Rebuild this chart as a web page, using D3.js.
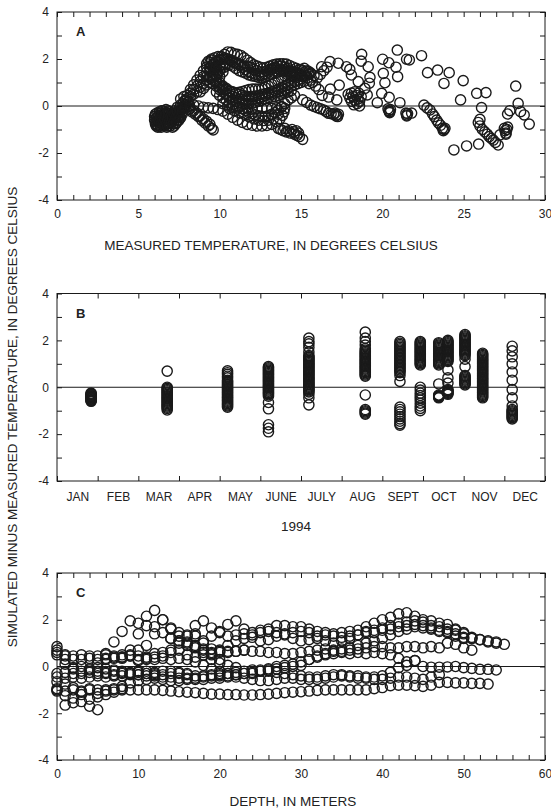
<!DOCTYPE html>
<html>
<head>
<meta charset="utf-8">
<script src="https://cdn.jsdelivr.net/npm/d3@7"></script>
<style>
  body { margin: 0; background: #fff; }
  svg { display: block; }
  text { font-family: "Liberation Sans", Arial, Helvetica, sans-serif; fill: #222; }
</style>
</head>
<body>
<script>
// ---------------- Panel A: residual vs measured temperature (deg C, residual) ----------------
const aWinterA = [[6.05,-0.35],[6.1,-0.5],[6.1,-0.65],[6.15,-0.8],[6.2,-0.9],[6.2,-0.45],[6.25,-0.7],[6.3,-0.25],[6.3,-0.55],[6.35,-0.85],[6.4,-0.4],[6.45,-0.65],[6.5,-0.2],[6.5,-0.8],[6.55,-0.5],[6.6,-0.35],[6.65,-0.7],[6.7,-0.15],[6.7,-0.55],[6.75,-0.9],[6.8,-0.4],[6.85,-0.75],[6.9,-0.25],[6.9,-0.6],
  [6.0,-0.45],[6.0,-0.6],[6.05,-0.75],[6.1,-0.85],[6.15,-0.3],[6.2,-0.6],[6.25,-0.4],[6.25,-0.85],[6.3,-0.7],[6.35,-0.3],[6.35,-0.5],[6.4,-0.75],[6.4,-0.9],[6.45,-0.2],[6.45,-0.45],[6.5,-0.35],[6.5,-0.6],[6.55,-0.75],[6.6,-0.5],[6.6,-0.85],[6.65,-0.25],[6.65,-0.4],[6.7,-0.65],[6.75,-0.3],[6.75,-0.75],[6.8,-0.55],[6.8,-0.85],[6.85,-0.2],[6.85,-0.45],[6.9,-0.7]];
const aWinterB = [[6.95,-0.85],[7.0,-0.45],[7.05,-0.7],[7.1,-0.3],[7.1,-0.9],[7.2,-0.55],[7.25,-0.2],[7.3,-0.75],[7.35,-0.4],[7.4,-0.05],[7.45,-0.6],[7.5,-0.25],[7.55,-0.45],[7.6,0.05],[7.65,-0.15],[7.7,-0.35],[7.75,0.1],[7.8,-0.1],[7.9,0.05],[8.0,-0.05],
  [7.0,-0.6],[7.05,-0.35],[7.1,-0.5],[7.15,-0.75],[7.2,-0.35],[7.2,-0.85],[7.25,-0.6],[7.3,-0.3],[7.3,-0.5],[7.35,-0.7],[7.4,-0.25],[7.45,-0.45],[7.5,-0.1],[7.5,-0.6],[7.55,-0.3],[7.6,-0.2],[7.6,-0.5],[7.7,-0.05],[7.7,-0.25],[7.8,0.2],[7.85,-0.05],[7.9,0.25],[8.0,0.15],[8.1,0.2],[8.15,0.0]];
const aRise1 = [[7.6,0.3],[7.8,0.4],[8.0,0.45],[8.2,0.55],[8.4,0.7],[8.6,0.85],[8.8,1.05],[9.0,1.25],[9.2,1.45],[9.4,1.65],[9.6,1.8],[9.8,1.9],[10.0,1.98]];
const aRise2 = [[8.0,0.3],[8.2,0.4],[8.4,0.5],[8.6,0.6],[8.8,0.8],[9.0,0.95],[9.2,1.1],[9.4,1.25],[9.6,1.4],[9.8,1.5]];
const aRise3 = [[8.2,0.7],[8.4,0.9],[8.6,1.1],[8.8,1.3],[9.0,1.5],[9.2,1.65],[9.4,1.85],[8.8,0.6],[9.0,0.75],[9.2,0.9],[9.4,1.0],[9.6,1.3],[9.6,0.95],[9.8,1.7],[9.8,1.3],[10.0,1.75],[10.0,1.5],[10.0,1.25],[9.4,1.5],[9.2,1.8],[9.5,1.95],[9.7,1.55],[9.9,1.4],[10.1,1.6],[10.2,1.45],[10.3,1.65]];
const aArc1 = [[10.3,2.2],[10.5,2.3],[10.7,2.28],[10.9,2.22],[11.1,2.2],[11.3,2.15],[11.5,2.05],[11.7,1.95],[11.9,1.85],[12.1,1.75],[12.3,1.7],[12.5,1.65],[12.7,1.62],[12.9,1.65],[13.1,1.7],[13.3,1.75],[13.5,1.78],[13.7,1.8],[13.9,1.8],[14.1,1.78],[14.3,1.72],[14.5,1.66],[14.7,1.6],[14.9,1.55],[15.1,1.5],[15.3,1.48],[15.5,1.45]];
const aArc2 = [[9.3,1.9],[9.5,2.0],[9.7,2.05],[9.9,2.1],[10.1,2.1],[10.3,2.05],[10.5,2.0],[10.7,1.95],[10.9,1.85],[11.1,1.8],[11.3,1.75],[11.5,1.7],[11.7,1.7],[11.9,1.65],[12.1,1.55],[12.3,1.5],[12.5,1.45],[12.7,1.45],[12.9,1.5],[13.1,1.55],[13.3,1.6],[13.5,1.6],[13.7,1.55],[13.9,1.5],[14.1,1.45],[14.3,1.4],[14.5,1.35],[14.7,1.3],[14.9,1.3],[15.1,1.25],[15.3,1.3],[15.5,1.35]];
const aArc3 = [[9.4,1.6],[9.6,1.75],[9.8,1.85],[10.0,1.95],[10.2,2.0],[10.4,2.0],[10.6,1.95],[10.8,1.9],[11.0,1.85],[11.2,1.75],[11.4,1.65],[11.6,1.55],[11.8,1.45],[12.0,1.4],[12.2,1.35],[12.4,1.3],[12.6,1.3],[12.8,1.35],[13.0,1.45],[13.2,1.55],[13.4,1.65],[13.6,1.7],[13.8,1.7],[14.0,1.65],[14.2,1.6],[14.4,1.5],[14.6,1.45],[14.8,1.4],[15.0,1.35],[15.2,1.3],[15.4,1.2],[15.6,1.1]];
const aArc4 = [[9.2,1.25],[9.4,1.2],[9.6,1.1],[9.8,1.0],[10.0,0.9],[10.2,0.8],[10.4,0.7],[10.6,0.62],[10.8,0.58],[11.0,0.55],[11.2,0.58],[11.4,0.62],[11.6,0.66],[11.8,0.7],[12.0,0.72],[12.2,0.72],[12.4,0.72],[12.6,0.74],[12.8,0.78],[13.0,0.85],[13.2,0.92],[13.4,1.0],[13.6,1.1],[13.8,1.2],[14.0,1.28],[14.2,1.32],[14.4,1.3],[14.6,1.25]];
const aArc5 = [[9.6,1.2],[9.8,1.1],[10.0,1.0],[10.2,0.85],[10.4,0.75],[10.6,0.65],[10.8,0.6],[11.0,0.55],[11.2,0.5],[11.4,0.45],[11.6,0.42],[11.8,0.4],[12.0,0.4],[12.2,0.42],[12.4,0.45],[12.6,0.5],[12.8,0.52],[13.0,0.55],[13.2,0.6],[13.4,0.65],[13.6,0.7],[13.8,0.78],[14.0,0.85],[14.2,0.9],[14.4,1.0],[14.6,1.05],[14.8,1.1],[15.0,1.15]];
const aArc6 = [[10.0,0.8],[10.2,0.7],[10.4,0.55],[10.6,0.45],[10.8,0.4],[11.0,0.35],[11.2,0.3],[11.4,0.28],[11.6,0.25],[11.8,0.25],[12.0,0.28],[12.2,0.3],[12.4,0.35],[12.6,0.4],[12.8,0.45],[13.0,0.5],[13.2,0.5],[13.4,0.55],[13.6,0.6],[13.8,0.65],[14.0,0.72],[14.2,0.78],[14.4,0.85],[14.6,0.9],[14.8,0.95],[15.0,1.0],[15.2,1.05]];
const aArc7 = [[9.6,1.6],[9.8,1.65],[10.0,1.7],[10.2,1.75],[10.4,1.8],[10.6,1.75],[10.8,1.7],[11.0,1.6],[11.2,1.5],[11.4,1.45],[11.6,1.4],[11.8,1.32],[12.0,1.28],[12.2,1.26],[12.4,1.22],[12.6,1.22],[12.8,1.26],[13.0,1.3],[13.2,1.35],[13.4,1.4],[13.6,1.45],[13.8,1.5],[14.0,1.55],[14.2,1.5],[14.4,1.45],[14.6,1.4]];
const aArc8 = [[9.8,0.85],[10.0,0.7],[10.2,0.6],[10.4,0.5],[10.6,0.35],[10.8,0.25],[11.0,0.2],[11.2,0.15],[11.4,0.12],[11.6,0.1],[11.8,0.1],[12.0,0.12],[12.2,0.15],[12.4,0.2],[12.6,0.25],[12.8,0.3],[13.0,0.35],[13.2,0.38],[13.4,0.4],[13.6,0.45],[13.8,0.5],[14.0,0.55],[14.2,0.6],[14.4,0.65]];
const aLoop1 = [[9.8,0.6],[10.0,0.45],[10.2,0.35],[10.4,0.25],[10.6,0.15],[10.8,0.08],[11.0,0.0],[11.2,-0.05],[11.4,-0.12],[11.6,-0.2],[11.8,-0.28],[12.0,-0.33],[12.2,-0.38],[12.4,-0.42],[12.6,-0.45],[12.8,-0.45],[13.0,-0.42],[13.2,-0.35],[13.4,-0.28],[13.6,-0.18],[13.8,-0.05],[14.0,0.1],[14.2,0.25],[14.4,0.35],[14.6,0.45]];
const aLoop2 = [[10.2,0.1],[10.5,0.0],[10.8,-0.05],[11.1,-0.08],[11.4,-0.1],[11.7,-0.12],[12.0,-0.12],[12.3,-0.1],[12.6,-0.1],[12.9,-0.1],[13.2,-0.1],[13.5,-0.08],[13.8,-0.02]];
const aLoop3 = [[8.4,0.05],[8.7,0.0],[9.0,-0.05],[9.3,-0.08],[9.6,-0.1],[9.9,-0.15],[10.2,-0.22],[10.5,-0.35],[10.8,-0.48],[11.1,-0.6],[11.4,-0.7],[11.7,-0.78],[12.0,-0.82],[12.3,-0.85],[12.6,-0.85],[12.9,-0.83],[13.2,-0.78],[13.5,-0.68],[13.7,-0.55],[13.85,-0.4],[13.95,-0.25],[14.0,-0.1]];
const aLoop4 = [[10.6,-0.1],[10.9,-0.2],[11.2,-0.28],[11.5,-0.35],[11.8,-0.45],[12.1,-0.55],[12.4,-0.6],[12.7,-0.62],[13.0,-0.6],[13.3,-0.55],[13.6,-0.35]];
const aFall1 = [[7.9,-0.05],[8.1,-0.15],[8.3,-0.25],[8.5,-0.35],[8.7,-0.45],[8.9,-0.6],[9.1,-0.72],[9.3,-0.85],[9.5,-0.95],[9.6,-1.02]];
const aFall2 = [[8.2,-0.1],[8.4,-0.2],[8.6,-0.3],[8.8,-0.42],[9.0,-0.55],[9.2,-0.65],[9.4,-0.78]];
const aCold15 = [[13.6,-0.95],[13.75,-1.0],[13.9,-1.05],[14.0,-0.95],[14.1,-1.1],[14.25,-1.05],[14.35,-1.15],[14.45,-1.0],[14.55,-1.1],[14.6,-1.2],[14.7,-1.05],[14.75,-1.25],[14.85,-1.15],[14.9,-1.3],[15.1,-1.42]];
const aFall17 = [[15.1,0.26],[15.35,0.15],[15.6,0.04],[15.8,-0.02],[16.0,-0.07],[16.2,-0.12],[16.4,-0.17],[16.55,-0.24],[16.7,-0.31],[16.85,-0.33],[17.0,-0.35],[17.1,-0.3],[17.15,-0.42],[17.2,-0.38],[17.25,-0.45],[17.3,-0.35]];
const aArcEnds = [[15.0,1.55],[15.2,1.6],[15.4,1.5],[15.6,1.4],[15.8,1.3],[16.0,1.2],[16.2,1.35],[16.4,1.5],[16.6,1.65],[15.7,1.0],[15.9,0.85],[16.1,0.7],[15.5,0.95]];
const aWarm18 = [[17.9,0.5],[18.0,0.35],[18.1,0.55],[18.1,0.2],[18.2,0.4],[18.25,0.05],[18.3,0.6],[18.3,0.25],[18.4,0.45],[18.45,0.1],[18.5,0.3],[18.55,0.55],[18.6,0.0],[18.6,0.2],[18.7,0.4]];
const aWarm20 = [[20.35,-0.12],[20.4,-0.2],[20.45,-0.28],[20.5,-0.15],[20.45,-0.24],[21.45,-0.3],[21.5,-0.38],[21.55,-0.32],[21.5,-0.42],[21.8,-0.3]];
const aFall23 = [[22.56,0.04],[22.75,-0.08],[22.93,-0.17],[23.09,-0.34],[23.2,-0.45],[23.34,-0.6],[23.45,-0.72],[23.58,-0.82],[23.7,-0.95],[23.79,-1.0],[23.75,-1.05],[23.85,-0.95]];
const aFall27 = [[25.9,-0.7],[26.0,-0.85],[26.15,-1.0],[26.3,-1.1],[26.45,-1.2],[26.57,-1.3],[26.7,-1.38],[26.82,-1.45],[26.95,-1.55],[27.5,-0.95],[27.55,-1.05],[27.6,-1.15],[27.65,-1.0],[27.7,-0.9],[27.6,-1.2]];
const aScatter = [[16.27,1.67],[16.78,1.89],[17.29,1.82],[17.8,1.67],[18.0,1.56],[18.1,1.32],[17.35,0.89],[16.8,0.72],[16.3,0.45],[16.7,0.38],[17.2,0.26],
  [18.73,2.2],[18.7,1.91],[19.13,1.67],[19.24,1.22],[19.2,0.97],[18.52,1.04],[18.93,0.75],[19.07,0.47],[19.69,0.14],[19.96,0.54],[20.06,1.39],[20.02,1.99],[20.16,0.99],[20.4,1.84],[20.42,0.37],[20.84,1.65],[20.92,2.38],[20.94,1.25],[21.08,0.14],[21.49,1.99],[21.66,1.96],[22.41,2.14],[22.78,1.42],[23.4,1.53],[23.79,0.96],[24.11,1.42],[24.4,-1.87],[24.81,0.26],[24.97,1.08],[25.18,-1.7],[25.8,0.54],[25.92,-1.62],[26.1,-0.07],[26.37,0.57],[26.0,-0.57],[27.12,-1.66],[27.23,-1.23],[27.7,-0.34],[27.84,-0.2],[28.2,0.85],[28.35,0.11],[28.5,-0.24],[28.72,-0.38],[29.03,-0.77]];

// ---------------- Panel B: residual by sampling date, 1994 ----------------
const monthNames = ["JAN","FEB","MAR","APR","MAY","JUNE","JULY","AUG","SEPT","OCT","NOV","DEC"];
const bDates = ["1994-01-27","1994-03-23","1994-05-07","1994-06-07","1994-07-07","1994-08-19","1994-09-14","1994-09-29","1994-10-13","1994-10-20","1994-11-02","1994-11-15","1994-12-07"];
const bJan = [-0.25,-0.28,-0.31,-0.34,-0.37,-0.4,-0.43,-0.46,-0.49,-0.52,-0.55,-0.58,-0.6];
const bMar = [0.69,0.0,-0.05,-0.1,-0.15,-0.2,-0.25,-0.3,-0.35,-0.4,-0.45,-0.5,-0.55,-0.6,-0.65,-0.7,-0.75,-0.8,-0.85,-0.9,-0.97];
const bMay = [0.7,0.62,0.55,0.47,0.4,0.3,0.25,0.2,0.15,0.1,0.05,0.0,-0.05,-0.1,-0.15,-0.2,-0.25,-0.3,-0.35,-0.4,-0.45,-0.5,-0.55,-0.6,-0.65,-0.7,-0.75,-0.8,-0.85];
const bJune = [0.88,0.83,0.78,0.73,0.68,0.63,0.58,0.53,0.48,0.43,0.38,0.33,0.28,0.23,0.18,0.13,0.08,0.03,-0.02,-0.07,-0.12,-0.17,-0.22,-0.27,-0.32,-0.38,-0.65,-0.92,-1.6,-1.75,-1.9];
const bJuly = [2.1,1.95,1.85,1.7,1.5,1.35,1.3,1.25,1.2,1.15,1.1,1.05,1.0,0.95,0.9,0.85,0.8,0.75,0.7,0.65,0.6,0.55,0.5,0.45,0.4,0.35,0.3,0.25,0.2,0.15,0.1,0.05,0.0,-0.05,-0.1,-0.15,-0.2,-0.3,-0.45,-0.75];
const bAug = [2.35,2.1,1.95,1.8,1.65,1.58,1.52,1.47,1.42,1.37,1.32,1.27,1.22,1.17,1.12,1.07,1.02,0.97,0.92,0.87,0.82,0.77,0.72,0.67,0.62,0.57,0.52,0.47,-0.33,-0.95,-1.0,-1.05,-1.1,-1.15];
const bSep1 = [1.95,1.88,1.82,1.76,1.7,1.64,1.58,1.52,1.46,1.4,1.34,1.28,1.22,1.16,1.1,1.04,0.98,0.92,0.86,0.8,0.74,0.68,0.62,0.5,0.25,-0.85,-0.95,-1.05,-1.15,-1.25,-1.35,-1.45,-1.55,-1.62];
const bSep2 = [1.95,1.9,1.85,1.8,1.75,1.7,1.65,1.6,1.55,1.5,1.45,1.4,1.35,1.3,1.25,1.2,1.15,1.1,1.05,1.0,0.95,0.0,-0.12,-0.25,-0.35,-0.45,-0.55,-0.68,-0.8,-0.9,-1.0];
const bOct1 = [1.9,1.85,1.8,1.75,1.7,1.65,1.6,1.55,1.5,1.45,1.4,1.35,1.3,1.25,1.2,1.15,1.1,1.05,1.0,0.95,0.14,-0.33,-0.36,-0.39,-0.42,-0.45];
const bOct2 = [2.0,1.95,1.9,1.85,1.8,1.75,1.7,1.65,1.6,1.55,1.5,1.45,1.4,1.35,1.3,1.25,1.2,1.15,1.1,0.74,0.4,0.18,-0.1,-0.14,-0.18,-0.22,-0.26,-0.3];
const bNov1 = [2.25,2.2,2.15,2.1,2.05,2.0,1.95,1.9,1.85,1.8,1.75,1.7,1.65,1.6,1.55,1.5,1.45,1.4,1.35,1.2,0.88,0.5,0.45,0.4,0.35,0.3,0.25,0.2,0.15,0.1];
const bNov2 = [1.45,1.4,1.35,1.3,1.25,1.2,1.15,1.1,1.05,1.0,0.95,0.9,0.85,0.8,0.75,0.7,0.65,0.6,0.55,0.5,0.45,0.4,0.35,0.3,0.25,0.2,0.15,0.1,0.05,0.0,-0.05,-0.1,-0.15,-0.2,-0.25,-0.3,-0.35,-0.4,-0.45];
const bDec = [1.75,1.55,1.3,1.0,0.65,0.3,-0.1,-0.45,-0.8,-0.95,-1.0,-1.05,-1.1,-1.15,-1.2,-1.25,-1.3,-1.35];
const bValues = [bJan,bMar,bMay,bJune,bJuly,bAug,bSep1,bSep2,bOct1,bOct2,bNov1,bNov2,bDec];

// ---------------- Panel C: residual profiles by depth (1-m sampling) ----------------
const cStarts = [0,0,0,0,0,0,0,0,0,5,6,8,17,0,14,10,20];
const cProfile1 = [-1.0,-1.05,-1.0,-1.05,-1.0,-1.0,-1.0,-1.0,-1.0,-1.0,-1.0,-1.0,-1.0,-1.02,-1.05,-1.08,-1.1,-1.12,-1.15,-1.18,-1.18,-1.2,-1.2,-1.22,-1.22,-1.2,-1.18,-1.15,-1.12,-1.1,-1.08,-1.05,-1.02,-1.0,-1.0,-1.0,-1.0,-1.0,-1.0,-0.95,-0.9,-0.82,-0.8,-0.8,-0.82,-0.85,-0.8,-0.68,-0.68,-0.7,-0.7,-0.72,-0.72,-0.75];
const cProfile2 = [-0.45,-0.5,-0.45,-0.5,-0.45,-0.4,-0.45,-0.4,-0.4,-0.35,-0.35,-0.4,-0.4,-0.45,-0.45,-0.5,-0.5,-0.55,-0.55,-0.5,-0.5,-0.45,-0.45,-0.5,-0.55,-0.6,-0.6,-0.55,-0.5,-0.5,-0.55,-0.55,-0.55,-0.5,-0.45,-0.4,-0.45,-0.5,-0.5,-0.55,-0.55,-0.5,-0.45,-0.45,-0.5,-0.55,-0.45,-0.35];
const cProfile3 = [-0.3,-0.25,-0.3,-0.3,-0.25,-0.3,-0.3,-0.35,-0.3,-0.3,-0.25,-0.3,-0.3,-0.35,-0.3,-0.3,-0.35,-0.4,-0.4,-0.35,-0.3,-0.3,-0.25,-0.2,-0.15,-0.15,-0.2,-0.25,-0.3,-0.35,-0.4,-0.45,-0.45,-0.4,-0.35,-0.35,-0.4,-0.4,-0.45,-0.45,-0.4,-0.25,-0.05,0.05,0.25,0.0,-0.03,-0.03,-0.02,0.0,-0.05,-0.08,-0.12,-0.12,-0.15];
const cProfile4 = [-0.65,-0.75,-0.9,-1.1,-0.95,-1.15,-1.05,-0.95,-0.85,-0.7,-0.6,-0.55,-0.5,-0.55,-0.6,-0.6,-0.55,-0.5,-0.45,-0.4,-0.35];
const cProfile5 = [-1.05,-1.25,-1.35,-1.5,-1.7,-1.85];
const cProfile6 = [-0.95,-1.65,-1.55,-1.2,-1.4,-1.3,-1.2,-1.1,-0.95];
const cProfile7 = [0.85,0.45,0.45,0.5,0.45,0.45,0.55,0.4,0.4,0.45,0.3,0.35,0.3,0.35,0.3,0.35,0.3,0.2,0.05,-0.1,-0.2,-0.3,-0.35,-0.3,-0.25,-0.2,-0.15,-0.1,-0.05,0.0,0.05,0.3,0.45,0.55,0.65,0.75,0.8,0.9,1.0,1.1,1.2,1.35,1.5,1.6,1.7,1.65,1.6,1.5,1.45,1.3,1.2];
const cProfile8 = [0.5,0.1,-0.05,0.0,-0.1,-0.05,-0.1,-0.15,-0.2,-0.25,-0.2,-0.2,-0.25,-0.2,-0.2,-0.25,-0.3];
const cProfile9 = [0.6,0.3,-0.1,-0.2,-0.15,-0.2,-0.25,-0.2,-0.25,-0.3,-0.35,-0.3,-0.35];
const cProfile10 = [0.15,0.5,1.05,1.5,1.95,1.85,2.15,2.4,2.0,1.65,1.3,1.05,0.85,0.6,0.3,0.15,0.05,-0.05];
const cProfile11 = [0.3,0.35,0.5,0.7,1.4,1.75,1.7,2.0,1.6,1.45,1.35,1.3,1.0,0.75,0.65,0.6,0.65,0.7];
const cProfile12 = [0.35,0.45,0.7,0.9,1.4,1.45,1.2,1.1,1.0,0.9,0.7,0.5,0.3];
const cProfile13 = [1.75,1.95,1.65,1.5,1.8,1.95,1.6,1.45,1.55,1.6,1.75,1.75,1.7,1.7,1.6,1.5,1.45,1.4,1.45,1.5,1.55,1.7,1.85,2.0,2.1,2.25,2.3,2.15,2.0,1.95,1.85,1.8,1.6,1.45,1.25,1.15,1.1,1.05,0.95];
const cProfile14 = [0.7,0.5,0.3,0.3,0.35,0.3,0.35,0.45,0.4,0.5,0.45,0.4,0.55,0.6,0.7,1.0,1.3,1.4,1.1,1.3,1.45,1.3,1.35,1.4,1.35,1.45,1.5,1.45,1.4,1.45,1.5,1.45,1.3,1.35,1.3,1.25,1.3,1.35,1.45,1.55,1.65,1.75,1.85,1.9,1.95,1.9,1.75,1.7,1.6,1.55,1.4,1.2,1.15,1.05,1.0];
const cProfile15 = [1.2,1.1,0.9,0.8,0.75,0.6,0.7,0.9,1.1,1.2,1.25,1.1,1.15,1.3,1.35,1.2,1.1,1.15,1.2,1.1,1.0,1.1,1.2,1.35,1.5,1.45,1.55,1.6,1.7,1.75,1.8,1.75,1.65,1.55,1.5,1.4,1.25,1.2];
const cProfile16 = [0.25,0.3,0.4,0.45,0.6,0.7,0.5,0.4,0.5,0.55,0.6,0.65,0.65,0.7,0.65,0.65,0.6,0.6,0.55,0.55,0.6,0.65,0.7,0.75,0.7,0.65,0.7,0.75,0.8,0.85,0.85,0.8,0.8,0.85,0.85,0.8,0.85,0.8,1.0,0.95,0.8,0.7];
const cProfile17 = [-0.4,-0.4,-0.35,-0.3,-0.3,-0.2,-0.1,0.0,0.05,0.1,0.2,0.3,0.4,0.5,0.55,0.6,0.55,0.6,0.55,0.6,0.55,0.5,0.35,0.2,0.25];
const cProfiles = [cProfile1,cProfile2,cProfile3,cProfile4,cProfile5,cProfile6,cProfile7,cProfile8,cProfile9,cProfile10,cProfile11,cProfile12,cProfile13,cProfile14,cProfile15,cProfile16,cProfile17];
const sampleInterval = 1;

// ---------------- Layout ----------------
const W = 551, H = 811;
const plotLeft = 57, plotRight = 545;
const ink = "#1a1a1a";
const svg = d3.select("body").append("svg").attr("width", W).attr("height", H);

function styleAxis(sel) {
  sel.select(".domain").remove();
  sel.selectAll(".tick line").attr("stroke", ink).attr("stroke-width", 1);
  sel.selectAll(".tick text").attr("font-family", '"Liberation Sans", Arial, sans-serif')
    .attr("font-size", 12).attr("fill", "#222");
  sel.attr("font-family", null).attr("font-size", null);
}

function panel(top, bottom, x, xTicks, xFmt, letter) {
  const y = d3.scaleLinear().domain([-4, 4]).range([bottom, top]);
  const g = svg.append("g");
  const yTicks = d3.range(-4, 5, 1);
  g.append("g").attr("transform", `translate(${plotLeft},0)`)
    .call(d3.axisLeft(y).tickValues(yTicks).tickSize(-5).tickSizeOuter(0).tickPadding(8)
      .tickFormat(d => d % 2 === 0 ? String(d) : "")).call(styleAxis);
  g.append("g").attr("transform", `translate(${plotRight},0)`)
    .call(d3.axisRight(y).tickValues(yTicks).tickSize(-5).tickSizeOuter(0).tickFormat("")).call(styleAxis);
  g.append("g").attr("transform", `translate(0,${bottom})`)
    .call(d3.axisBottom(x).tickValues(xTicks).tickSize(-5).tickSizeOuter(0).tickPadding(9).tickFormat(xFmt)).call(styleAxis);
  g.append("g").attr("transform", `translate(0,${top})`)
    .call(d3.axisTop(x).tickValues(xTicks).tickSize(-5).tickSizeOuter(0).tickFormat("")).call(styleAxis);
  g.append("line").attr("x1", plotLeft).attr("x2", plotRight)
    .attr("y1", y(0)).attr("y2", y(0)).attr("stroke", ink).attr("stroke-width", 1);
  g.append("rect").attr("x", plotLeft).attr("y", top)
    .attr("width", plotRight - plotLeft).attr("height", bottom - top)
    .attr("fill", "none").attr("stroke", ink).attr("stroke-width", 1);
  g.append("text").attr("x", plotLeft + 19).attr("y", top + 24)
    .attr("font-size", 13).attr("font-weight", "bold").text(letter);
  return { g, y };
}

function drawPoints(g, pts, x, y) {
  g.append("g").selectAll("circle").data(pts).join("circle")
    .attr("cx", d => x(d[0])).attr("cy", d => y(d[1])).attr("r", 5.1)
    .attr("fill", "none").attr("stroke", ink).attr("stroke-width", 1.4);
}

// Panel A
const xA = d3.scaleLinear().domain([0, 30]).range([plotLeft, plotRight]);
const pA = panel(12, 200, xA, d3.range(0, 31, 1), d => d % 5 === 0 ? String(d) : "", "A");
const aSeries = [aWinterA, aWinterB, aRise1, aRise2, aRise3, aArc1, aArc2, aArc3, aArc4, aArc5, aArc6,
  aArc7, aArc8, aLoop1, aLoop2, aLoop3, aLoop4, aFall1, aFall2, aCold15, aFall17, aArcEnds,
  aWarm18, aWarm20, aFall23, aFall27, aScatter];
drawPoints(pA.g, aSeries.flat(), xA, pA.y);
svg.append("text").attr("x", 271).attr("y", 250).attr("text-anchor", "middle")
  .attr("font-size", 13.5).text("MEASURED TEMPERATURE, IN DEGREES CELSIUS");

// Panel B (equal-width months)
const xB = d3.scaleLinear().domain([0, 12]).range([plotLeft, plotRight]);
const pB = panel(293.5, 481, xB, d3.range(0, 13, 1), () => "", "B");
pB.g.append("g").attr("transform", "translate(0,481)")
  .call(d3.axisBottom(xB).tickValues(d3.range(12).map(i => i + 0.5)).tickSize(0).tickPadding(11)
    .tickFormat((d, i) => monthNames[i])).call(styleAxis);
const parseDate = d3.timeParse("%Y-%m-%d");
function monthPos(s) {
  const dt = parseDate(s);
  const m0 = d3.timeMonth.floor(dt), m1 = d3.timeMonth.offset(m0, 1);
  return dt.getMonth() + (dt - m0) / (m1 - m0);
}
const bPoints = bDates.flatMap((s, i) => bValues[i].map(v => [monthPos(s), v]));
drawPoints(pB.g, bPoints, xB, pB.y);
svg.append("text").attr("x", 296).attr("y", 531).attr("text-anchor", "middle")
  .attr("font-size", 13.5).text("1994");

// Panel C
const xC = d3.scaleLinear().domain([0, 60]).range([plotLeft, plotRight]);
const pC = panel(573, 760, xC, d3.range(0, 61, 2), d => d % 10 === 0 ? String(d) : "", "C");
const cPoints = cProfiles.flatMap((p, i) => p.map((v, k) => [cStarts[i] + k * sampleInterval, v]));
drawPoints(pC.g, cPoints, xC, pC.y);
svg.append("text").attr("x", 293).attr("y", 806).attr("text-anchor", "middle")
  .attr("font-size", 13.5).text("DEPTH, IN METERS");

// Shared y-axis title
svg.append("text").attr("transform", "translate(17,417) rotate(-90)").attr("text-anchor", "middle")
  .attr("font-size", 13.5).text("SIMULATED MINUS MEASURED TEMPERATURE, IN DEGREES CELSIUS");
</script>
</body>
</html>
